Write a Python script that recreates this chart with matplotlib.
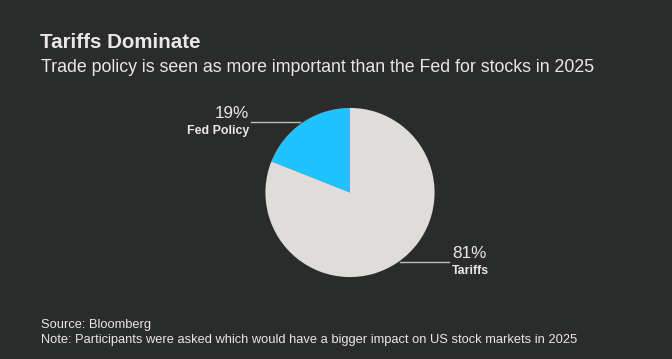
import matplotlib.pyplot as plt

# Data
labels = ["Fed Policy", "Tariffs"]
shares = [19, 81]
colors = ["#1EC3FF", "#DEDDD9"]

title = "Tariffs Dominate"
subtitle = "Trade policy is seen as more important than the Fed for stocks in 2025"
source = "Source: Bloomberg"
note = "Note: Participants were asked which would have a bigger impact on US stock markets in 2025"

W, H = 672, 359
bg = "#2A2B2B"
fg = "#E8E8E6"

fig = plt.figure(figsize=(W / 100, H / 100), dpi=100, facecolor=bg)


def px(x, y):
    # pixel coords (top-left origin) to figure fraction
    return x / W, 1 - y / H


# pie axes, centred at (350, 192) px with radius ~85 px
cx, cy, r = 350, 192.5, 85
ax = fig.add_axes([(cx - r) / W, (H - cy - r) / H, 2 * r / W, 2 * r / H])
ax.set_facecolor(bg)
ax.pie(shares, colors=colors, startangle=90, counterclock=True, radius=0.995,
       wedgeprops=dict(linewidth=0))
ax.set_xlim(-1, 1)
ax.set_ylim(-1, 1)
ax.axis("off")

fam = ["Liberation Sans", "DejaVu Sans"]

fig.text(*px(40, 42), title, fontsize=14.8, fontweight="bold", color=fg,
         family=fam, va="center", ha="left")
fig.text(*px(41, 68), subtitle, fontsize=12.8, color=fg,
         family=fam, va="center", ha="left")

# slice labels
fig.text(*px(249, 114), f"{shares[0]}%", fontsize=12.3, color=fg,
         family=fam, va="center", ha="right")
fig.text(*px(249, 131), labels[0], fontsize=8.9, fontweight="bold", color=fg,
         family=fam, va="center", ha="right")
fig.text(*px(452, 253), f"{shares[1]}%", fontsize=12.3, color=fg,
         family=fam, va="center", ha="left")
fig.text(*px(452, 271), labels[1], fontsize=8.9, fontweight="bold", color=fg,
         family=fam, va="center", ha="left")

# leader lines
for x0, x1, y in [(251, 300, 122.5), (400, 449, 262)]:
    fig.add_artist(plt.Line2D([x0 / W, x1 / W], [1 - y / H, 1 - y / H],
                              color="#BDBDBB", linewidth=1.0,
                              transform=fig.transFigure))

fig.text(*px(41, 325), source, fontsize=9.3, color=fg, family=fam,
         va="center", ha="left")
fig.text(*px(41, 340), note, fontsize=9.3, color=fg, family=fam,
         va="center", ha="left")

fig.savefig("out.png", dpi=100, facecolor=bg)
